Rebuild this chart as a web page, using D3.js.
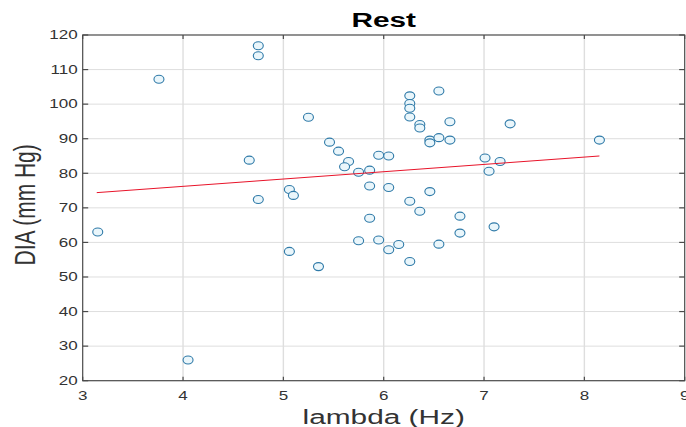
<!DOCTYPE html>
<html>
<head>
<meta charset="utf-8">
<script src="https://cdn.jsdelivr.net/npm/d3@7"></script>
<style>
  body { margin: 0; background: #fff; }
  svg { display: block; }
  text { font-family: "Liberation Sans", Arial, sans-serif; }
</style>
</head>
<body>
<div id="viz"></div>
<script>
// data
const lambdaHz = [3.15, 3.76, 4.05, 4.66, 4.75, 4.75, 4.75, 5.06, 5.10, 5.06,
  5.25, 5.35, 5.46, 5.55, 5.65, 5.61, 5.75, 5.86, 5.95, 6.05,
  5.86, 6.05, 5.86, 5.75, 5.95, 6.05, 6.15, 6.26, 6.26, 6.26,
  6.26, 6.26, 6.55, 6.36, 6.36, 6.66, 7.26, 6.46, 6.46, 6.55,
  6.66, 8.15, 7.01, 7.16, 7.05, 6.26, 6.46, 6.36, 6.76, 6.76,
  7.10, 6.55];
const diaMmHg = [63.0, 107.2, 26.0, 83.8, 116.9, 114.0, 72.4, 75.3, 73.6, 57.4,
  96.2, 53.0, 89.0, 86.4, 83.4, 81.9, 80.3, 80.9, 85.2, 85.0,
  76.3, 75.9, 67.0, 60.5, 60.7, 57.9, 59.4, 54.5, 102.4, 100.2,
  98.8, 96.3, 103.8, 94.1, 93.1, 94.9, 94.3, 89.6, 88.8, 90.3,
  89.6, 89.6, 84.4, 83.4, 80.6, 71.9, 74.7, 69.0, 67.6, 62.7,
  64.5, 59.5];
// least squares line end points
const fitX = [3.14, 8.15];
const fitY = [74.4, 85.0];
const xTicks = [3, 4, 5, 6, 7, 8, 9];
const yTicks = [20, 30, 40, 50, 60, 70, 80, 90, 100, 110, 120];

const width = 686, height = 427;
const pLeft = 82.7, pRight = 684.7, pTop = 35, pBottom = 380.7;
const sx = 1.42; // the picture is stretched sideways, so text is too
const axisColor = "#4a4a4a";

const svg = d3.select("#viz").append("svg")
  .attr("width", width)
  .attr("height", height);

const x = d3.scaleLinear().domain([3, 9]).range([pLeft, pRight]);
const y = d3.scaleLinear().domain([20, 120]).range([pBottom, pTop]);

// grid
svg.append("g").selectAll("line").data(xTicks.slice(1, -1)).join("line")
  .attr("x1", d => x(d)).attr("x2", d => x(d))
  .attr("y1", pTop).attr("y2", pBottom)
  .attr("stroke", "#dedede").attr("stroke-width", 1.4);
svg.append("g").selectAll("line").data(yTicks.slice(1, -1)).join("line")
  .attr("x1", pLeft).attr("x2", pRight)
  .attr("y1", d => y(d)).attr("y2", d => y(d))
  .attr("stroke", "#dedede").attr("stroke-width", 1);

// box + inward ticks
svg.append("rect")
  .attr("x", pLeft).attr("y", pTop)
  .attr("width", pRight - pLeft).attr("height", pBottom - pTop)
  .attr("fill", "none").attr("stroke", axisColor).attr("stroke-width", 1.2);

const tk = svg.append("g").attr("stroke", axisColor).attr("stroke-width", 1.2);
xTicks.forEach(d => {
  tk.append("line").attr("x1", x(d)).attr("x2", x(d)).attr("y1", pBottom).attr("y2", pBottom - 4);
  tk.append("line").attr("x1", x(d)).attr("x2", x(d)).attr("y1", pTop).attr("y2", pTop + 4);
});
yTicks.forEach(d => {
  tk.append("line").attr("x1", pLeft).attr("x2", pLeft + 5.5).attr("y1", y(d)).attr("y2", y(d));
  tk.append("line").attr("x1", pRight).attr("x2", pRight - 5.5).attr("y1", y(d)).attr("y2", y(d));
});

// stretched text helper
const label = (tx, ty, str, size, anchor, extra) => svg.append("text")
  .attr("transform", `translate(${tx},${ty}) scale(${sx},1)${extra || ""}`)
  .attr("text-anchor", anchor)
  .attr("font-size", size + "px")
  .attr("fill", "#333")
  .text(str);

xTicks.forEach(d => label(x(d), pBottom + 19, d, 12, "middle"));
yTicks.forEach(d => label(pLeft - 5, y(d) + 4.3, d, 12, "end"));

label((pLeft + pRight) / 2, 424, "lambda (Hz)", 21, "middle");
label(35, (pTop + pBottom) / 2 - 3, "DIA (mm Hg)", 21, "middle", " rotate(-90)");
label((pLeft + pRight) / 2, 27, "Rest", 21, "middle")
  .attr("font-weight", "bold").attr("fill", "#000");

// markers
svg.append("g").selectAll("ellipse").data(lambdaHz).join("ellipse")
  .attr("cx", (d, i) => x(d))
  .attr("cy", (d, i) => y(diaMmHg[i]))
  .attr("rx", 5).attr("ry", 4)
  .attr("fill", "#eaf6fb")
  .attr("stroke", "#2f7aa8")
  .attr("stroke-width", 1.1);

// fit line
svg.append("line")
  .attr("x1", x(fitX[0])).attr("y1", y(fitY[0]))
  .attr("x2", x(fitX[1])).attr("y2", y(fitY[1]))
  .attr("stroke", "#e8142a").attr("stroke-width", 1);
</script>
</body>
</html>
